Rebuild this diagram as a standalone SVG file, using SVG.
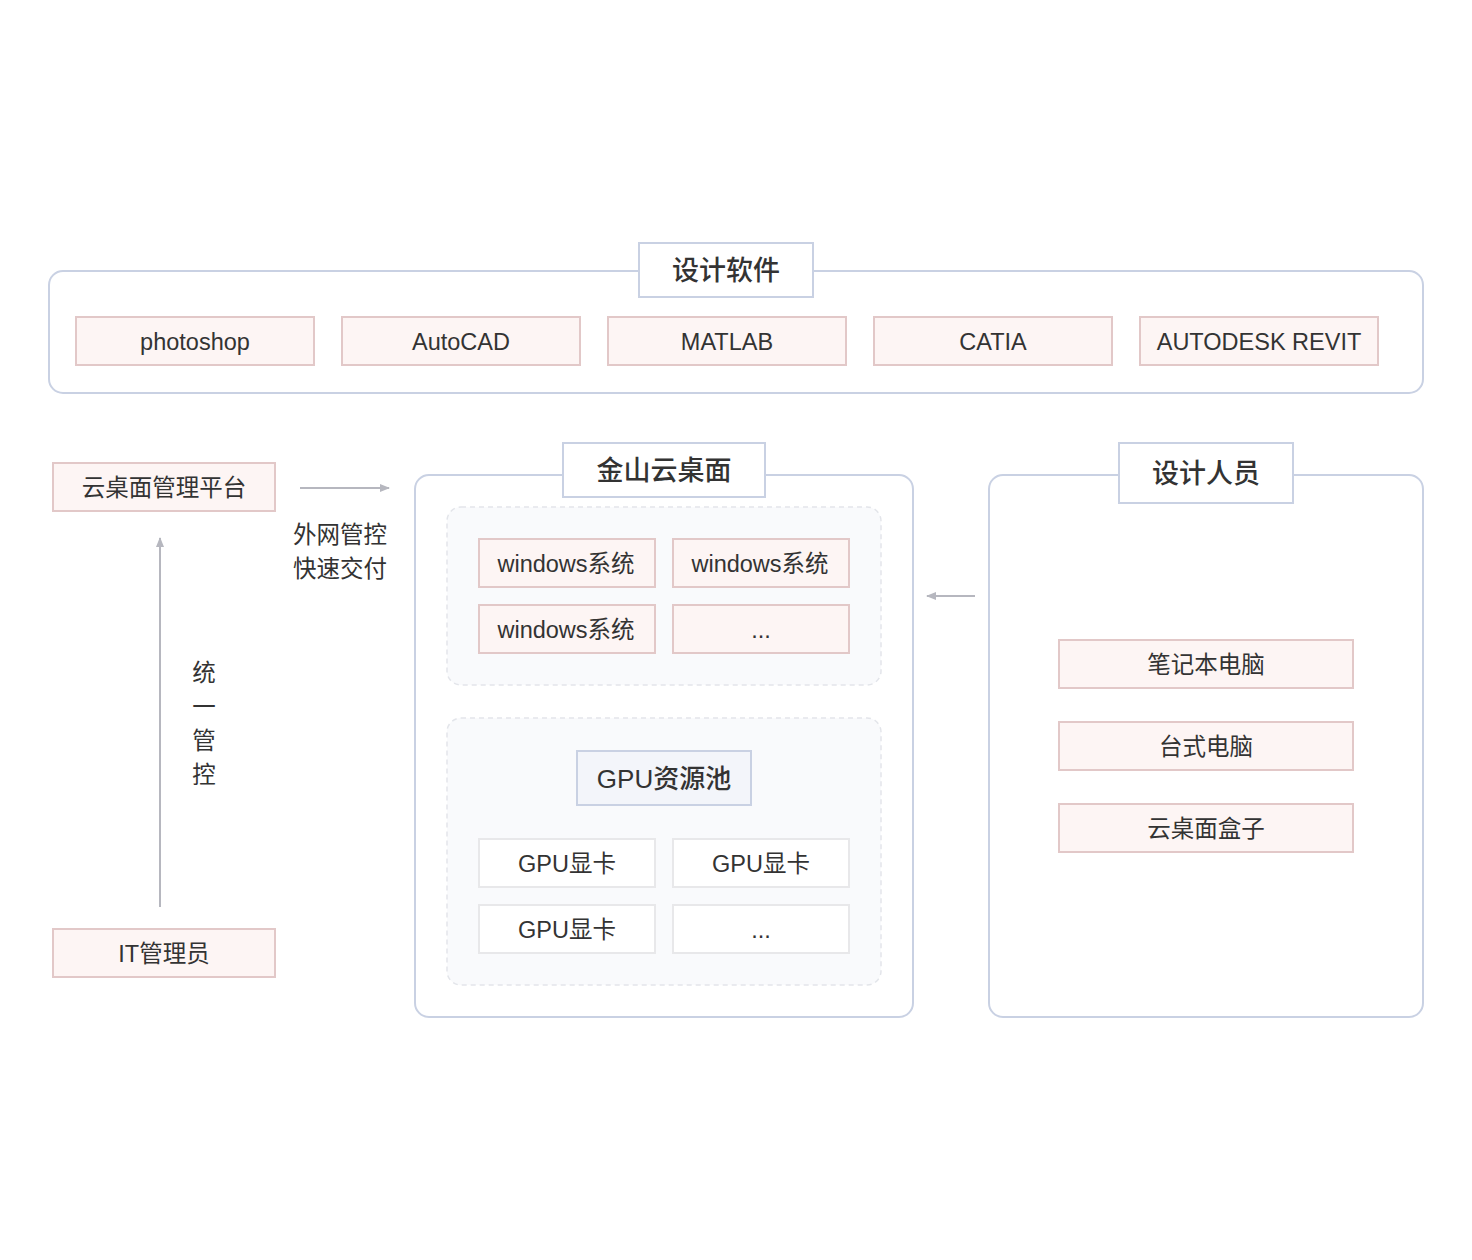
<svg xmlns="http://www.w3.org/2000/svg" width="1472" height="1260" viewBox="0 0 1472 1260">
<defs>
<marker id="ah" viewBox="0 0 10 10" refX="9" refY="5" markerWidth="10" markerHeight="10" markerUnits="userSpaceOnUse" orient="auto">
<path d="M0,1 L10,5 L0,9 Z" fill="#b6b7bf"/>
</marker>
<style>
.cont{fill:#ffffff;stroke:#c9d1e3;stroke-width:2}
.title{fill:#ffffff;stroke:#c9d1e3;stroke-width:2}
.pink{fill:#fdf5f4;stroke:#e2c8c8;stroke-width:2}
.gray{fill:#ffffff;stroke:#e8e8ea;stroke-width:2}
.dash{fill:#f9fafc;stroke:#e3e5ea;stroke-width:1.5;stroke-dasharray:5 4}
.pool{fill:#f3f5fa;stroke:#c9d1e3;stroke-width:2}
.t{font-family:"Liberation Sans","Noto Sans CJK SC",sans-serif;font-size:23.5px;fill:#333333;text-anchor:middle;dominant-baseline:central}
.tt{font-family:"Liberation Sans","Noto Sans CJK SC",sans-serif;font-size:27px;font-weight:500;fill:#333333;text-anchor:middle;dominant-baseline:central}
.conn{stroke:#b6b7bf;stroke-width:2;fill:none}
</style>
</defs>
<rect width="1472" height="1260" fill="#ffffff"/>

<g id="software">
<rect class="cont" x="49" y="271" width="1374" height="122" rx="14"/>
<rect class="title" x="639" y="243" width="174" height="54"/>
<text class="tt" x="726" y="271">设计软件</text>
</g>
<g id="sw-photoshop"><rect class="pink" x="76" y="317" width="238" height="48"/><text class="t" x="195" y="342">photoshop</text></g>
<g id="sw-autocad"><rect class="pink" x="342" y="317" width="238" height="48"/><text class="t" x="461" y="342">AutoCAD</text></g>
<g id="sw-matlab"><rect class="pink" x="608" y="317" width="238" height="48"/><text class="t" x="727" y="342">MATLAB</text></g>
<g id="sw-catia"><rect class="pink" x="874" y="317" width="238" height="48"/><text class="t" x="993" y="342">CATIA</text></g>
<g id="sw-revit"><rect class="pink" x="1140" y="317" width="238" height="48"/><text class="t" x="1259" y="342">AUTODESK REVIT</text></g>

<g id="kingsoft">
<rect class="cont" x="415" y="475" width="498" height="542" rx="14"/>
<rect class="title" x="563" y="443" width="202" height="54"/>
<text class="tt" x="664" y="471">金山云桌面</text>
</g>
<g id="win-group">
<rect class="dash" x="447" y="507" width="434" height="178" rx="14"/>
</g>
<g id="win1"><rect class="pink" x="479" y="539" width="176" height="48"/><text class="t" x="566" y="564">windows系统</text></g>
<g id="win2"><rect class="pink" x="673" y="539" width="176" height="48"/><text class="t" x="760" y="564">windows系统</text></g>
<g id="win3"><rect class="pink" x="479" y="605" width="176" height="48"/><text class="t" x="566" y="630">windows系统</text></g>
<g id="win4"><rect class="pink" x="673" y="605" width="176" height="48"/><text class="t" x="761" y="630">...</text></g>

<g id="gpu-group">
<rect class="dash" x="447" y="718" width="434" height="267" rx="14"/>
</g>
<g id="gpu-pool"><rect class="pool" x="577" y="751" width="174" height="54"/><text class="tt" x="664" y="779" style="font-size:26px">GPU资源池</text></g>
<g id="gpu1"><rect class="gray" x="479" y="839" width="176" height="48"/><text class="t" x="567" y="864">GPU显卡</text></g>
<g id="gpu2"><rect class="gray" x="673" y="839" width="176" height="48"/><text class="t" x="761" y="864">GPU显卡</text></g>
<g id="gpu3"><rect class="gray" x="479" y="905" width="176" height="48"/><text class="t" x="567" y="930">GPU显卡</text></g>
<g id="gpu4"><rect class="gray" x="673" y="905" width="176" height="48"/><text class="t" x="761" y="930">...</text></g>

<g id="designers">
<rect class="cont" x="989" y="475" width="434" height="542" rx="14"/>
<rect class="title" x="1119" y="443" width="174" height="60"/>
<text class="tt" x="1206" y="474">设计人员</text>
</g>
<g id="dev-laptop"><rect class="pink" x="1059" y="640" width="294" height="48"/><text class="t" x="1206" y="665">笔记本电脑</text></g>
<g id="dev-desktop"><rect class="pink" x="1059" y="722" width="294" height="48"/><text class="t" x="1206" y="747">台式电脑</text></g>
<g id="dev-box"><rect class="pink" x="1059" y="804" width="294" height="48"/><text class="t" x="1206" y="829">云桌面盒子</text></g>

<g id="mgmt-platform"><rect class="pink" x="53" y="463" width="222" height="48"/><text class="t" x="164" y="488">云桌面管理平台</text></g>
<g id="it-admin"><rect class="pink" x="53" y="929" width="222" height="48"/><text class="t" x="164" y="954">IT管理员</text></g>

<g id="connectors">
<line class="conn" x1="160" y1="907" x2="160" y2="538" marker-end="url(#ah)"/>
<line class="conn" x1="300" y1="488" x2="389" y2="488" marker-end="url(#ah)"/>
<line class="conn" x1="975" y1="596" x2="927" y2="596" marker-end="url(#ah)"/>
<text class="t" x="204" y="673">统</text>
<text class="t" x="204" y="707">一</text>
<text class="t" x="204" y="741">管</text>
<text class="t" x="204" y="775">控</text>
<text class="t" x="340" y="535">外网管控</text>
<text class="t" x="340" y="569">快速交付</text>
</g>
</svg>
